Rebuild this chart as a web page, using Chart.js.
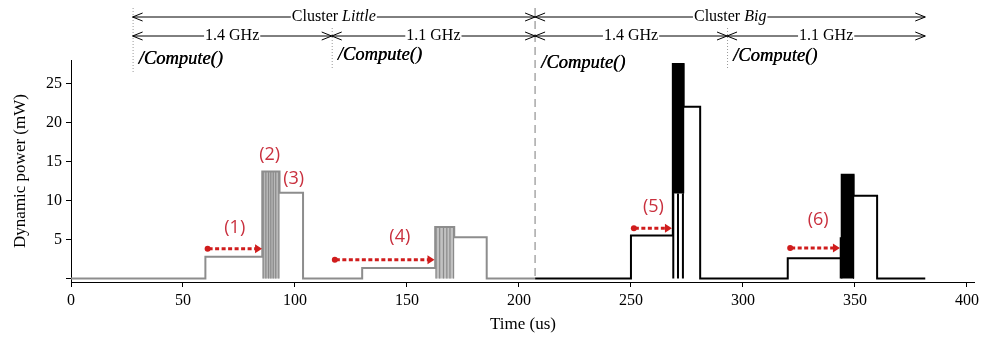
<!DOCTYPE html>
<html lang="en">
<head>
<meta charset="UTF-8">
<title>Dynamic power</title>
<script src="https://cdn.jsdelivr.net/npm/chart.js"></script>
<style>
  html, body { margin: 0; padding: 0; background: #fff; }
</style>
</head>
<body>
<canvas id="power" width="983" height="338"></canvas>
<script>
// step series: time (us) where the level changes, and the new level (mW)
const littleTime  = [0, 60, 85.4, 93.1, 103.6, 130, 162.6, 171.1, 185.6, 207.2];
const littlePower = [0, 2.8, 13.7, 11.0, 0, 1.35, 6.6, 5.3, 0, 0];
const bigTime  = [207.2, 250, 268.7, 273.5, 280.9, 320, 344.1, 349.4, 359.9, 381.4];
const bigPower = [0, 5.5, 27.5, 22.0, 0, 2.6, 13.3, 10.6, 0, 0];

// short bursts inside the spikes
const burst2Span = [85.4, 93.1];
const burst2Lines = [85.8, 87.0, 88.2, 89.2, 90.3, 91.4, 92.8];
const burst2Top = 13.7;
const burst4Span = [162.6, 171.1];
const burst4Lines = [163.0, 164.6, 166.3, 167.8, 169.2, 170.8];
const burst4Top = 6.6;
const burst5Span = [268.7, 273.5];
const burst5Solid = [10.9, 27.5];
const burst5Lines = [268.9, 271.0, 273.2];
const burst6Span = [344.1, 349.4];
const burst6Solid = [0, 13.3];
const burst6Lines = [343.5, 344.0];
const burst6LineTop = 5.3;

const xTicks = [0, 50, 100, 150, 200, 250, 300, 350, 400];
const yTicks = [0, 5, 10, 15, 20, 25];

// annotations above the plot
const clusterSpans = [[27.5, 207.2], [207.2, 381.4]];
const clusterNames = ['Little', 'Big'];
const freqSpans = [[27.5, 116.4], [116.4, 207.2], [207.2, 292.9], [292.9, 381.4]];
const freqNames = ['1.4 GHz', '1.1 GHz', '1.4 GHz', '1.1 GHz'];
const computeY = [59, 55, 63, 56];

// red marks
const markNames = ['(1)', '(2)', '(3)', '(4)', '(5)', '(6)'];
const markX = [73.1, 88.7, 99.4, 146.8, 260, 333.6];
const markY = [6.5, 15.8, 12.8, 5.3, 9.2, 7.5];
const waitSpans = [[60.1, 85.3, 3.8], [116.9, 162.3, 2.4], [250.4, 268.3, 6.45], [320.2, 343.3, 3.9]];

const serif = '"Liberation Serif", "Times New Roman", serif';

function steps(t, p) {
  return t.map((x, i) => ({ x: x, y: p[i] }));
}
function rect(span, lo, hi) {
  return [{ x: span[0], y: lo }, { x: span[0], y: hi }, { x: span[1], y: hi }, { x: span[1], y: lo }];
}
function sticks(xs, lo, hi) {
  const out = [];
  xs.forEach(x => { out.push({ x: x, y: lo }, { x: x, y: hi }, { x: x, y: null }); });
  return out;
}

function chevron(ctx, x, y, dir) {
  ctx.beginPath();
  ctx.moveTo(x - dir * 10, y - 4);
  ctx.lineTo(x, y);
  ctx.lineTo(x - dir * 10, y + 4);
  ctx.stroke();
}

function spanRow(ctx, x0, x1, y, pieces) {
  ctx.strokeStyle = '#000';
  ctx.lineWidth = 1;
  ctx.beginPath();
  ctx.moveTo(x0, y);
  ctx.lineTo(x1, y);
  ctx.stroke();
  chevron(ctx, x0, y, -1);
  chevron(ctx, x1, y, 1);
  let w = 0;
  pieces.forEach(p => { ctx.font = p.font; w += ctx.measureText(p.text).width; });
  let tx = (x0 + x1) / 2 - w / 2;
  ctx.fillStyle = '#fff';
  ctx.fillRect(tx - 1, y - 9, w + 2, 18);
  ctx.fillStyle = '#000';
  ctx.textBaseline = 'middle';
  ctx.textAlign = 'left';
  pieces.forEach(p => {
    ctx.font = p.font;
    ctx.fillText(p.text, tx, y);
    tx += ctx.measureText(p.text).width;
  });
}

const overlay = {
  id: 'overlay',
  beforeDatasetsDraw(chart) {
    const { ctx, scales: { x, y } } = chart;
    ctx.save();
    ctx.strokeStyle = '#a8a8a8';
    ctx.lineWidth = 1.5;
    ctx.setLineDash([8, 5]);
    ctx.beginPath();
    ctx.moveTo(x.getPixelForValue(207.2), 8);
    ctx.lineTo(x.getPixelForValue(207.2), y.getPixelForValue(0));
    ctx.stroke();
    ctx.restore();
  },
  afterDatasetsDraw(chart) {
    const { ctx, scales: { x, y } } = chart;
    ctx.save();

    // dotted guides
    ctx.strokeStyle = '#999';
    ctx.lineWidth = 1;
    ctx.setLineDash([1, 2]);
    [[27.5, 8, 72], [116.4, 28, 68], [292.9, 28, 68]].forEach(g => {
      const px = x.getPixelForValue(g[0]) + 0.5;
      ctx.beginPath();
      ctx.moveTo(px, g[1]);
      ctx.lineTo(px, g[2]);
      ctx.stroke();
    });
    ctx.setLineDash([]);

    clusterSpans.forEach((s, i) => {
      spanRow(ctx, x.getPixelForValue(s[0]), x.getPixelForValue(s[1]), 17, [
        { text: 'Cluster ', font: '16px ' + serif },
        { text: clusterNames[i], font: 'italic 16px ' + serif }
      ]);
    });
    freqSpans.forEach((s, i) => {
      spanRow(ctx, x.getPixelForValue(s[0]), x.getPixelForValue(s[1]), 36, [
        { text: freqNames[i], font: '16px ' + serif }
      ]);
    });

    ctx.font = 'italic 18.5px ' + serif;
    ctx.fillStyle = '#000';
    ctx.textAlign = 'left';
    ctx.textBaseline = 'middle';
    freqSpans.forEach((s, i) => {
      const px = x.getPixelForValue(s[0]) + 6;
      ctx.fillText('/Compute()', px, computeY[i]);
      ctx.fillText('/Compute()', px + 0.4, computeY[i]);
    });

    // waiting arrows
    ctx.strokeStyle = '#d01c1c';
    ctx.fillStyle = '#d01c1c';
    waitSpans.forEach(w => {
      const a = x.getPixelForValue(w[0]);
      const b = x.getPixelForValue(w[1]);
      const py = y.getPixelForValue(w[2]);
      ctx.lineWidth = 3;
      ctx.setLineDash([4, 2.5]);
      ctx.beginPath();
      ctx.moveTo(a + 3, py);
      ctx.lineTo(b - 5, py);
      ctx.stroke();
      ctx.setLineDash([]);
      ctx.beginPath();
      ctx.arc(a + 2, py, 3, 0, Math.PI * 2);
      ctx.fill();
      ctx.beginPath();
      ctx.moveTo(b, py);
      ctx.lineTo(b - 7, py - 4.5);
      ctx.lineTo(b - 7, py + 4.5);
      ctx.closePath();
      ctx.fill();
    });

    ctx.font = '18px "Open Sans", "Liberation Sans", sans-serif';
    ctx.fillStyle = '#c9303e';
    ctx.textAlign = 'center';
    markNames.forEach((m, i) => {
      ctx.fillText(m, x.getPixelForValue(markX[i]), y.getPixelForValue(markY[i]));
    });
    ctx.restore();
  }
};

const line = (data, color, width, order, extra) => Object.assign({
  data: data, borderColor: color, borderWidth: width, pointRadius: 0,
  fill: false, tension: 0, order: order, spanGaps: false
}, extra || {});

new Chart(document.getElementById('power'), {
  type: 'line',
  data: {
    datasets: [
      line(steps(littleTime, littlePower), '#8d8d8d', 2, 1, { stepped: true }),
      line(steps(bigTime, bigPower), '#000', 2, 1, { stepped: true }),
      line(rect(burst2Span, 0, burst2Top), 'rgba(0,0,0,0)', 0, 3, { fill: { value: 0 }, backgroundColor: '#b9b9b9' }),
      line(sticks(burst2Lines, 0, burst2Top), '#8a8a8a', 1.2, 2),
      line(rect(burst4Span, 0, burst4Top), 'rgba(0,0,0,0)', 0, 3, { fill: { value: 0 }, backgroundColor: '#c2c2c2' }),
      line(sticks(burst4Lines, 0, burst4Top), '#8a8a8a', 1.2, 2),
      line(rect(burst5Span, burst5Solid[0], burst5Solid[1]), '#000', 1, 3, { fill: { value: burst5Solid[0] }, backgroundColor: '#000' }),
      line(sticks(burst5Lines, 0, burst5Solid[0]), '#000', 2, 2),
      line(rect(burst6Span, burst6Solid[0], burst6Solid[1]), '#000', 1, 3, { fill: { value: burst6Solid[0] }, backgroundColor: '#000' }),
      line(sticks(burst6Lines, 0, burst6LineTop), '#000', 1.3, 2)
    ]
  },
  plugins: [overlay],
  options: {
    responsive: false,
    animation: false,
    devicePixelRatio: 1,
    layout: { padding: { top: 60, right: 8, left: 0, bottom: 0 } },
    plugins: { legend: { display: false }, tooltip: { enabled: false } },
    scales: {
      x: {
        type: 'linear',
        min: 0,
        max: 403.6,
        afterBuildTicks: s => { s.ticks = xTicks.map(v => ({ value: v })); },
        afterFit: s => { s.height = 56; },
        ticks: { color: '#000', font: { family: serif, size: 16 }, padding: 4, maxRotation: 0, autoSkip: false },
        grid: { drawOnChartArea: false, tickLength: 5, tickColor: '#000' },
        border: { color: '#000', width: 1 },
        title: { display: true, text: 'Time (us)', color: '#000', font: { family: serif, size: 17 }, padding: { top: 0, bottom: 3 } }
      },
      y: {
        type: 'linear',
        min: -0.45,
        max: 28,
        afterBuildTicks: s => { s.ticks = yTicks.map(v => ({ value: v })); },
        afterFit: s => { s.width = 71; },
        ticks: { color: '#000', font: { family: serif, size: 16 }, padding: 4, callback: v => (v === 0 ? '' : v) },
        grid: { drawOnChartArea: false, tickLength: 5, tickColor: '#000' },
        border: { color: '#000', width: 1 },
        title: { display: true, text: 'Dynamic power (mW)', color: '#000', font: { family: serif, size: 17 }, padding: { top: 10 } }
      }
    }
  }
});
</script>
</body>
</html>
